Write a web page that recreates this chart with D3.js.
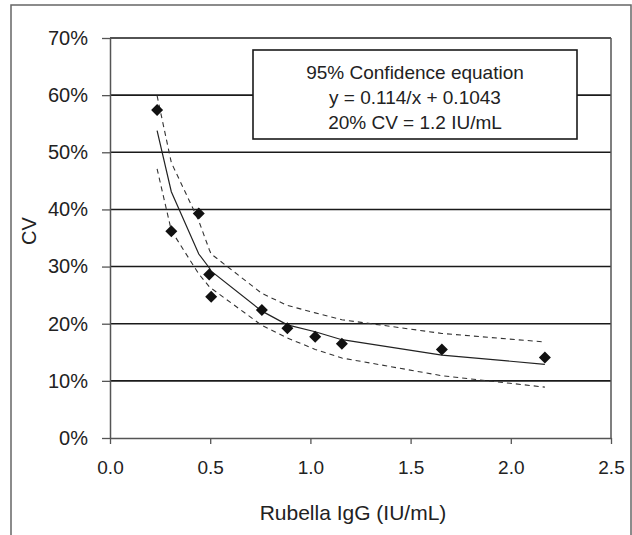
<!DOCTYPE html>
<html lang="en">
<head>
    <meta charset="UTF-8">
    <title>Rubella IgG CV</title>
    <script src="https://d3js.org/d3.v7.min.js"></script>
    <style>
        body {
            margin: 0;
            background: #fff;
            font-family: "Liberation Sans", Arial, Helvetica, sans-serif;
        }
        svg text {
            fill: #222;
        }
    </style>
</head>
<body>
    <svg id="chart" width="632" height="535"></svg>

    <script>
        // Data
        const igG = [0.235, 0.306, 0.443, 0.495, 0.505, 0.758, 0.885, 1.024, 1.157, 1.656, 2.17];
        const cv = [0.574, 0.362, 0.393, 0.286, 0.247, 0.224, 0.192, 0.177, 0.165, 0.155, 0.141];
        const fitCv = [0.538, 0.431, 0.322, 0.298, 0.292, 0.222, 0.198, 0.186, 0.172, 0.145, 0.129];
        const upperCv = [0.599, 0.482, 0.380, 0.330, 0.322, 0.253, 0.232, 0.219, 0.207, 0.183, 0.168];
        const lowerCv = [0.471, 0.363, 0.287, 0.265, 0.262, 0.197, 0.175, 0.155, 0.140, 0.109, 0.089];

        const xTicks = [0, 0.5, 1, 1.5, 2, 2.5];
        const xTickLabels = ["0.0", "0.5", "1.0", "1.5", "2.0", "2.5"];
        const yTicks = [0, 0.1, 0.2, 0.3, 0.4, 0.5, 0.6, 0.7];
        const yTickLabels = ["0%", "10%", "20%", "30%", "40%", "50%", "60%", "70%"];
        const legendLines = ["95% Confidence equation", "y = 0.114/x + 0.1043", "20% CV = 1.2 IU/mL"];

        // Plot area
        const margin = {top: 38, left: 110, right: 21, bottom: 97};
        const W = 632, H = 535;
        const width = W - margin.left - margin.right;
        const height = H - margin.top - margin.bottom;

        const svg = d3.select("#chart");

        // outer frame
        svg.append("rect")
            .attr("x", 11).attr("y", 5)
            .attr("width", 620).attr("height", 540)
            .attr("fill", "none")
            .attr("stroke", "#666")
            .attr("stroke-width", 1.5);

        const g = svg.append("g")
            .attr("transform", `translate(${margin.left},${margin.top})`);

        const x = d3.scaleLinear().domain([0, 2.5]).range([0, width]);
        const y = d3.scaleLinear().domain([0, 0.7]).range([height, 0]);

        // horizontal gridlines
        g.append("g")
            .selectAll("line")
            .data(yTicks.slice(1))
            .enter()
            .append("line")
            .attr("x1", 0).attr("x2", width)
            .attr("y1", d => y(d)).attr("y2", d => y(d))
            .attr("stroke", "#1a1a1a")
            .attr("stroke-width", 1.6);

        // right border
        g.append("line")
            .attr("x1", width).attr("x2", width)
            .attr("y1", 0).attr("y2", height)
            .attr("stroke", "#555")
            .attr("stroke-width", 1.5);

        // Y axis
        const yAxis = g.append("g")
            .call(d3.axisLeft(y).tickValues(yTicks).tickSize(8).tickSizeOuter(0)
                .tickFormat((d, i) => yTickLabels[i]));
        yAxis.select(".domain").attr("stroke", "#555").attr("stroke-width", 1.5);
        yAxis.selectAll(".tick line").attr("stroke", "#555").attr("stroke-width", 1.3);
        yAxis.selectAll(".tick text")
            .attr("x", -22)
            .style("font-size", "20px")
            .style("font-family", "inherit");

        // X axis
        const xAxis = g.append("g")
            .attr("transform", `translate(0,${height})`)
            .call(d3.axisBottom(x).tickValues(xTicks).tickSize(6).tickSizeOuter(0)
                .tickFormat((d, i) => xTickLabels[i]));
        xAxis.select(".domain").attr("stroke", "#555").attr("stroke-width", 1.5);
        xAxis.selectAll(".tick line").attr("stroke", "#555").attr("stroke-width", 1.3);
        xAxis.selectAll(".tick text")
            .attr("y", 23)
            .style("font-size", "19px")
            .style("font-family", "inherit");

        // Axis titles
        svg.append("text")
            .attr("x", 353).attr("y", 520)
            .attr("text-anchor", "middle")
            .style("font-size", "21px")
            .text("Rubella IgG (IU/mL)");

        svg.append("text")
            .attr("transform", "translate(36,231) rotate(-90)")
            .attr("text-anchor", "middle")
            .style("font-size", "20px")
            .text("CV");

        // Legend box (sits over the gridline)
        const lg = svg.append("g").attr("transform", "translate(253,50)");
        lg.append("rect")
            .attr("width", 324).attr("height", 89)
            .attr("fill", "#fff")
            .attr("stroke", "#1a1a1a")
            .attr("stroke-width", 1.6);
        lg.selectAll("text")
            .data(legendLines)
            .enter()
            .append("text")
            .attr("x", 162)
            .attr("y", (d, i) => 29 + i * 25)
            .attr("text-anchor", "middle")
            .style("font-size", "19px")
            .text(d => d);

        // Curves
        const line = vals => d3.line()
            .x((d, i) => x(igG[i]))
            .y(d => y(d))(vals);

        g.append("path")
            .attr("d", line(upperCv))
            .attr("fill", "none")
            .attr("stroke", "#333")
            .attr("stroke-width", 1.1)
            .attr("stroke-dasharray", "5,4");

        g.append("path")
            .attr("d", line(lowerCv))
            .attr("fill", "none")
            .attr("stroke", "#333")
            .attr("stroke-width", 1.1)
            .attr("stroke-dasharray", "5,4");

        g.append("path")
            .attr("d", line(fitCv))
            .attr("fill", "none")
            .attr("stroke", "#222")
            .attr("stroke-width", 1.2);

        // Points (diamonds)
        const diamond = d3.symbol().type(d3.symbolSquare).size(72);
        g.selectAll(".pt")
            .data(cv)
            .enter()
            .append("path")
            .attr("class", "pt")
            .attr("d", diamond)
            .attr("transform", (d, i) => `translate(${x(igG[i])},${y(d)}) rotate(45)`)
            .attr("fill", "#111");
    </script>
</body>
</html>
